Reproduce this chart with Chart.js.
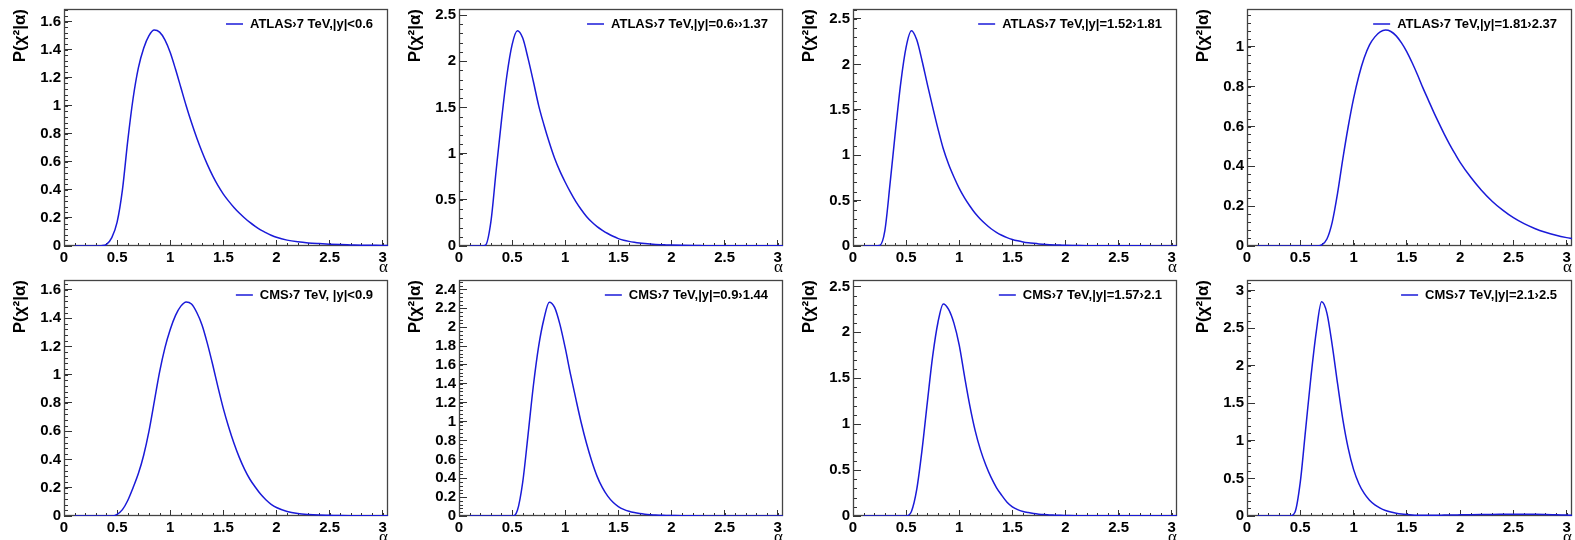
<!DOCTYPE html>
<html>
<head>
<meta charset="utf-8">
<script src="https://cdn.jsdelivr.net/npm/chart.js@4.4.1/dist/chart.umd.min.js"></script>
<style>
  html, body { margin: 0; padding: 0; background: #fff; overflow: hidden; }
  #grid { position: relative; width: 1575px; height: 540px; overflow: hidden; }
  #grid canvas { position: absolute; }
</style>
</head>
<body>
<div id="grid"></div>
<script>
// alpha grid shared by all eight curves
const alpha = [0.1, 0.15, 0.2, 0.25, 0.3, 0.35, 0.4, 0.45, 0.5, 0.55, 0.6, 0.65, 0.7, 0.75, 0.8, 0.85, 0.9, 0.95,
  1.0, 1.05, 1.1, 1.15, 1.2, 1.25, 1.3, 1.35, 1.4, 1.45, 1.5, 1.55, 1.6, 1.65, 1.7, 1.75, 1.8, 1.85, 1.9, 1.95,
  2.0, 2.1, 2.2, 2.3, 2.4, 2.5, 2.6, 2.7, 2.8, 2.9, 3.0, 3.05];

// P(chi2|alpha)
const atlas1 = [0, 0, 0, 0, 0, 0.002, 0.012, 0.06, 0.17, 0.40, 0.75, 1.05, 1.27, 1.41, 1.50, 1.54, 1.525, 1.47,
  1.38, 1.26, 1.13, 1.00, 0.88, 0.77, 0.67, 0.58, 0.50, 0.43, 0.37, 0.32, 0.275, 0.235, 0.20, 0.168, 0.14, 0.115, 0.095, 0.077,
  0.062, 0.042, 0.03, 0.022, 0.017, 0.013, 0.01, 0.008, 0.006, 0.005, 0.004, 0.004];
const atlas2 = [0, 0, 0, 0.01, 0.26, 0.82, 1.36, 1.84, 2.18, 2.33, 2.25, 2.03, 1.78, 1.52, 1.31, 1.12, 0.95, 0.81,
  0.69, 0.58, 0.48, 0.395, 0.32, 0.26, 0.21, 0.17, 0.135, 0.105, 0.08, 0.063, 0.05, 0.04, 0.032, 0.026, 0.021, 0.017, 0.014, 0.012,
  0.01, 0.007, 0.005, 0.004, 0.003, 0.003, 0.002, 0.002, 0.002, 0.002, 0.002, 0.002];
const atlas3 = [0, 0, 0, 0.005, 0.17, 0.70, 1.27, 1.80, 2.19, 2.37, 2.27, 2.04, 1.78, 1.53, 1.29, 1.07, 0.90, 0.76,
  0.635, 0.53, 0.44, 0.36, 0.295, 0.24, 0.19, 0.15, 0.118, 0.092, 0.072, 0.057, 0.045, 0.036, 0.029, 0.023, 0.019, 0.015, 0.012, 0.01,
  0.008, 0.006, 0.004, 0.003, 0.002, 0.002, 0.002, 0.002, 0.001, 0.001, 0.001, 0.001];
const atlas4 = [0, 0, 0, 0, 0, 0, 0, 0, 0, 0, 0, 0, 0.005, 0.035, 0.12, 0.265, 0.44, 0.60,
  0.74, 0.855, 0.945, 1.01, 1.05, 1.075, 1.084, 1.077, 1.055, 1.02, 0.975, 0.92, 0.86, 0.795, 0.735, 0.675, 0.618, 0.563, 0.512, 0.465,
  0.42, 0.345, 0.28, 0.225, 0.18, 0.142, 0.112, 0.088, 0.069, 0.054, 0.042, 0.037];
const cms1 = [0, 0, 0, 0, 0, 0, 0, 0, 0.012, 0.045, 0.11, 0.20, 0.30, 0.43, 0.60, 0.81, 1.02, 1.19,
  1.32, 1.42, 1.485, 1.515, 1.50, 1.44, 1.35, 1.22, 1.07, 0.91, 0.76, 0.63, 0.515, 0.415, 0.33, 0.26, 0.205, 0.155, 0.115, 0.083,
  0.06, 0.032, 0.018, 0.011, 0.007, 0.005, 0.003, 0.002, 0.002, 0.001, 0.001, 0.001];
const cms2 = [0, 0, 0, 0, 0, 0, 0, 0, 0, 0.06, 0.36, 0.86, 1.38, 1.80, 2.09, 2.265, 2.21, 2.03,
  1.78, 1.50, 1.24, 0.99, 0.77, 0.58, 0.42, 0.30, 0.21, 0.145, 0.10, 0.07, 0.05, 0.036, 0.026, 0.019, 0.014, 0.01, 0.008, 0.006,
  0.005, 0.003, 0.002, 0.001, 0.001, 0.001, 0.001, 0.001, 0.001, 0.001, 0.001, 0.001];
const cms3 = [0, 0, 0, 0, 0, 0, 0, 0, 0, 0.05, 0.29, 0.72, 1.24, 1.74, 2.11, 2.31, 2.25, 2.10,
  1.86, 1.52, 1.20, 0.93, 0.72, 0.555, 0.42, 0.31, 0.225, 0.15, 0.10, 0.07, 0.05, 0.037, 0.027, 0.02, 0.015, 0.011, 0.009, 0.007,
  0.006, 0.004, 0.003, 0.003, 0.003, 0.003, 0.003, 0.003, 0.003, 0.002, 0.002, 0.002];
const cms4 = [0, 0, 0, 0, 0, 0, 0, 0.05, 0.45, 1.15, 1.85, 2.45, 2.85, 2.70, 2.27, 1.76, 1.28, 0.90,
  0.62, 0.43, 0.30, 0.21, 0.148, 0.105, 0.074, 0.052, 0.037, 0.026, 0.019, 0.014, 0.011, 0.01, 0.01, 0.01, 0.011, 0.012, 0.013, 0.014,
  0.015, 0.017, 0.019, 0.021, 0.022, 0.023, 0.023, 0.022, 0.02, 0.016, 0.012, 0.01];

const series = [atlas1, atlas2, atlas3, atlas4, cms1, cms2, cms3, cms4];
const labels = [
  "ATLAS›7 TeV,|y|<0.6", "ATLAS›7 TeV,|y|=0.6››1.37", "ATLAS›7 TeV,|y|=1.52›1.81", "ATLAS›7 TeV,|y|=1.81›2.37",
  "CMS›7 TeV, |y|<0.9", "CMS›7 TeV,|y|=0.9›1.44", "CMS›7 TeV,|y|=1.57›2.1", "CMS›7 TeV,|y|=2.1›2.5"
];

const xTicks = [0, 0.5, 1, 1.5, 2, 2.5, 3];
const xMax = 3.05;
const yTicks = [
  [0, 0.2, 0.4, 0.6, 0.8, 1, 1.2, 1.4, 1.6],
  [0, 0.5, 1, 1.5, 2, 2.5],
  [0, 0.5, 1, 1.5, 2, 2.5],
  [0, 0.2, 0.4, 0.6, 0.8, 1],
  [0, 0.2, 0.4, 0.6, 0.8, 1, 1.2, 1.4, 1.6],
  [0, 0.2, 0.4, 0.6, 0.8, 1, 1.2, 1.4, 1.6, 1.8, 2, 2.2, 2.4],
  [0, 0.5, 1, 1.5, 2, 2.5],
  [0, 0.5, 1, 1.5, 2, 2.5, 3]
];
const yMax = [1.69, 2.565, 2.61, 1.19, 1.67, 2.50, 2.57, 3.14];

// layout of the 2x4 pads
const plotLefts = [64, 459, 853, 1247];
const plotRights = [388, 783, 1177, 1572];
const rowTops = [0, 270];
const padTops = [9, 10];
const AXIS_W = 64, AXIS_H = 34, CANVAS_H = 280;

const lineColor = '#1a1ad8';
const axisColor = '#333';
const sans = '"Liberation Sans", Arial, Helvetica, sans-serif';

// frame + minor ticks, ROOT style
const rootFrame = {
  id: 'rootFrame',
  beforeDatasetsDraw(chart, args, opts) {
    const { ctx, chartArea: a } = chart;
    const xs = chart.scales.x, ys = chart.scales.y;
    ctx.save();
    ctx.strokeStyle = axisColor;
    ctx.lineWidth = 1;
    ctx.beginPath();
    const nx = Math.floor(xs.max / opts.xMinor + 1e-6);
    for (let i = 1; i <= nx; i++) {
      const px = Math.round(xs.getPixelForValue(i * opts.xMinor)) + 0.5;
      ctx.moveTo(px, a.bottom);
      ctx.lineTo(px, a.bottom - 3);
    }
    const ny = Math.floor(ys.max / opts.yMinor + 1e-6);
    for (let i = 1; i <= ny; i++) {
      const py = Math.round(ys.getPixelForValue(i * opts.yMinor)) + 0.5;
      ctx.moveTo(a.left, py);
      ctx.lineTo(a.left + 4, py);
    }
    ctx.stroke();
    ctx.lineWidth = 1.3;
    ctx.strokeStyle = '#444';
    ctx.strokeRect(Math.round(a.left) + 0.5, Math.round(a.top) + 0.5,
      Math.round(a.width) - 1, Math.round(a.height) - 1);
    ctx.restore();
  }
};

// small TLegend in the upper right corner of the frame
const rootLegend = {
  id: 'rootLegend',
  afterDatasetsDraw(chart) {
    const { ctx, chartArea: a } = chart;
    const ds = chart.data.datasets[0];
    ctx.save();
    ctx.font = 'bold 13px ' + sans;
    ctx.fillStyle = '#000';
    ctx.textBaseline = 'middle';
    const w = ctx.measureText(ds.label).width;
    const tx = a.right - 15 - w;
    const ty = a.top + 15;
    ctx.fillText(ds.label, tx, ty);
    ctx.strokeStyle = ds.borderColor;
    ctx.lineWidth = 1.5;
    ctx.beginPath();
    ctx.moveTo(tx - 24, ty);
    ctx.lineTo(tx - 7, ty);
    ctx.stroke();
    ctx.restore();
  }
};

const grid = document.getElementById('grid');

series.forEach((vals, i) => {
  const col = i % 4, row = Math.floor(i / 4);
  const canvas = document.createElement('canvas');
  const w = plotRights[col] - plotLefts[col] + AXIS_W + 8;
  canvas.width = w;
  canvas.height = CANVAS_H;
  canvas.style.left = (plotLefts[col] - AXIS_W) + 'px';
  canvas.style.top = rowTops[row] + 'px';
  canvas.style.width = w + 'px';
  canvas.style.height = CANVAS_H + 'px';
  grid.appendChild(canvas);

  const yStep = yTicks[i][1] - yTicks[i][0];

  new Chart(canvas.getContext('2d'), {
    type: 'line',
    data: {
      datasets: [{
        label: labels[i],
        data: alpha.map((a, k) => ({ x: a, y: vals[k] })),
        borderColor: lineColor,
        borderWidth: 1.5,
        pointRadius: 0,
        fill: false,
        cubicInterpolationMode: 'monotone'
      }]
    },
    options: {
      responsive: false,
      animation: false,
      layout: { padding: { top: padTops[row], right: 8, left: 0, bottom: 0 } },
      plugins: {
        legend: { display: false },
        tooltip: { enabled: false },
        rootFrame: { xMinor: 0.1, yMinor: yStep / 5 }
      },
      scales: {
        x: {
          type: 'linear',
          min: 0,
          max: xMax,
          afterBuildTicks: s => { s.ticks = xTicks.map(v => ({ value: v })); },
          afterFit: s => { s.height = AXIS_H; s.paddingLeft = 0; s.paddingRight = 0; },
          grid: { drawOnChartArea: false, drawTicks: true, tickLength: -6, tickColor: axisColor, tickWidth: 1 },
          border: { display: false },
          ticks: {
            autoSkip: false, maxRotation: 0, padding: 9, color: '#000',
            font: { family: sans, size: 15, weight: 'bold' },
            callback: v => String(Math.round(v * 100) / 100)
          },
          title: {
            display: true, text: 'α', align: 'end', color: '#000',
            font: { family: '"Liberation Serif", "DejaVu Serif", serif', size: 17, lineHeight: 1 },
            padding: { top: 0, bottom: 4 }
          }
        },
        y: {
          type: 'linear',
          min: 0,
          max: yMax[i],
          afterBuildTicks: s => { s.ticks = yTicks[i].map(v => ({ value: v })); },
          afterFit: s => { s.width = AXIS_W; s.paddingTop = 0; s.paddingBottom = 0; },
          grid: { drawOnChartArea: false, drawTicks: true, tickLength: -8, tickColor: axisColor, tickWidth: 1 },
          border: { display: false },
          ticks: {
            autoSkip: false, padding: 11, color: '#000',
            font: { family: sans, size: 15, weight: 'bold' },
            callback: v => String(Math.round(v * 100) / 100)
          },
          title: {
            display: true, text: 'P(χ²|α)', align: 'end', color: '#000',
            font: { family: sans, size: 17, weight: 'bold', lineHeight: 1.2 },
            padding: { top: 10, bottom: 0 }
          }
        }
      }
    },
    plugins: [rootFrame, rootLegend]
  });
});
</script>
</body>
</html>
